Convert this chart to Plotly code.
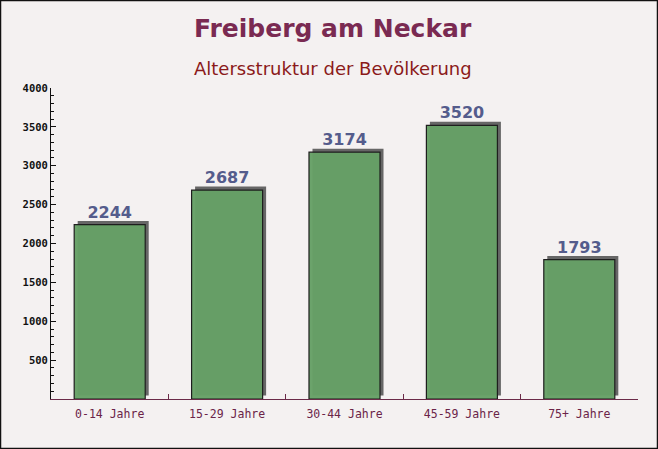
import plotly.graph_objects as go

categories = ["0-14 Jahre", "15-29 Jahre", "30-44 Jahre", "45-59 Jahre", "75+ Jahre"]
values = [2244, 2687, 3174, 3520, 1793]
y_tickvals = [500, 1000, 1500, 2000, 2500, 3000, 3500, 4000]

W, H = 658, 449
ML, MR, MT, MB = 51, 20, 88, 50
pw, ph = W - ML - MR, H - MT - MB
y_max = 4000
bar_w = 0.605
shadow_dx = 3.5 / (pw / len(categories))
shadow_dy = 3.5 * y_max / ph

fig = go.Figure()
fig.add_trace(go.Bar(
    x=categories, y=values, base=[shadow_dy] * len(values),
    width=bar_w, offset=-bar_w / 2 + shadow_dx,
    marker=dict(color="#666666", line=dict(width=0)),
    hoverinfo="skip", showlegend=False,
))
fig.add_trace(go.Bar(
    x=categories, y=values,
    width=bar_w, offset=-bar_w / 2,
    marker=dict(color="rgba(102,160,102,0.97)", line=dict(color="#1e1e1e", width=1.2)),
    text=[str(v) for v in values], textposition="outside",
    textfont=dict(family="DejaVu Sans", size=16, color="#545c8c", weight="bold"),
    cliponaxis=False, showlegend=False,
))

fig.update_layout(
    width=W, height=H, barmode="overlay",
    margin=dict(l=ML, r=MR, t=MT, b=MB),
    paper_bgcolor="#f4f1f1", plot_bgcolor="rgba(0,0,0,0)",
    annotations=[
        dict(text="<b>Freiberg am Neckar</b>", xref="paper", yref="paper",
             x=0.5, y=(H - 29 - MB) / ph, xanchor="center", yanchor="middle",
             showarrow=False, font=dict(family="DejaVu Sans", size=25, color="#7a2a52"),
             xshift=-(ML - MR) / 2 + 4),
        dict(text="Altersstruktur der Bevölkerung", xref="paper", yref="paper",
             x=0.5, y=(H - 68 - MB) / ph, xanchor="center", yanchor="middle",
             showarrow=False, font=dict(family="DejaVu Sans", size=18, color="#8b1a1a"),
             xshift=-(ML - MR) / 2 + 4),
    ],
    shapes=[dict(type="rect", xref="paper", yref="paper",
                 x0=-ML / pw + 0.5 / pw, x1=1 + MR / pw - 0.5 / pw,
                 y0=-MB / ph + 0.5 / ph, y1=1 + MT / ph - 0.5 / ph,
                 line=dict(color="#111", width=1.5), layer="above")],
)
fig.update_xaxes(
    type="category", range=[-0.5, len(categories) - 0.5],
    showline=True, linecolor="#6b2a48", linewidth=1.2,
    ticks="inside", tickson="boundaries", ticklen=5, tickcolor="#6b2a48",
    tickfont=dict(family="DejaVu Sans Mono", size=11.5, color="#6b2448"),
    ticklabelstandoff=4,
    showgrid=False, zeroline=False,
)
fig.update_yaxes(
    range=[0, y_max], tickvals=y_tickvals,
    showline=True, linecolor="#111", linewidth=1,
    ticks="inside", ticklen=5, tickcolor="#111",
    tickfont=dict(family="DejaVu Sans Mono", size=10.5, color="#111", weight="bold"),
    minor=dict(dtick=100, ticks="inside", ticklen=3, tickcolor="#111"),
    showgrid=False, zeroline=False,
)

fig.write_html("out.html", config={"displayModeBar": False},
               post_script="document.body.style.margin='0';")
